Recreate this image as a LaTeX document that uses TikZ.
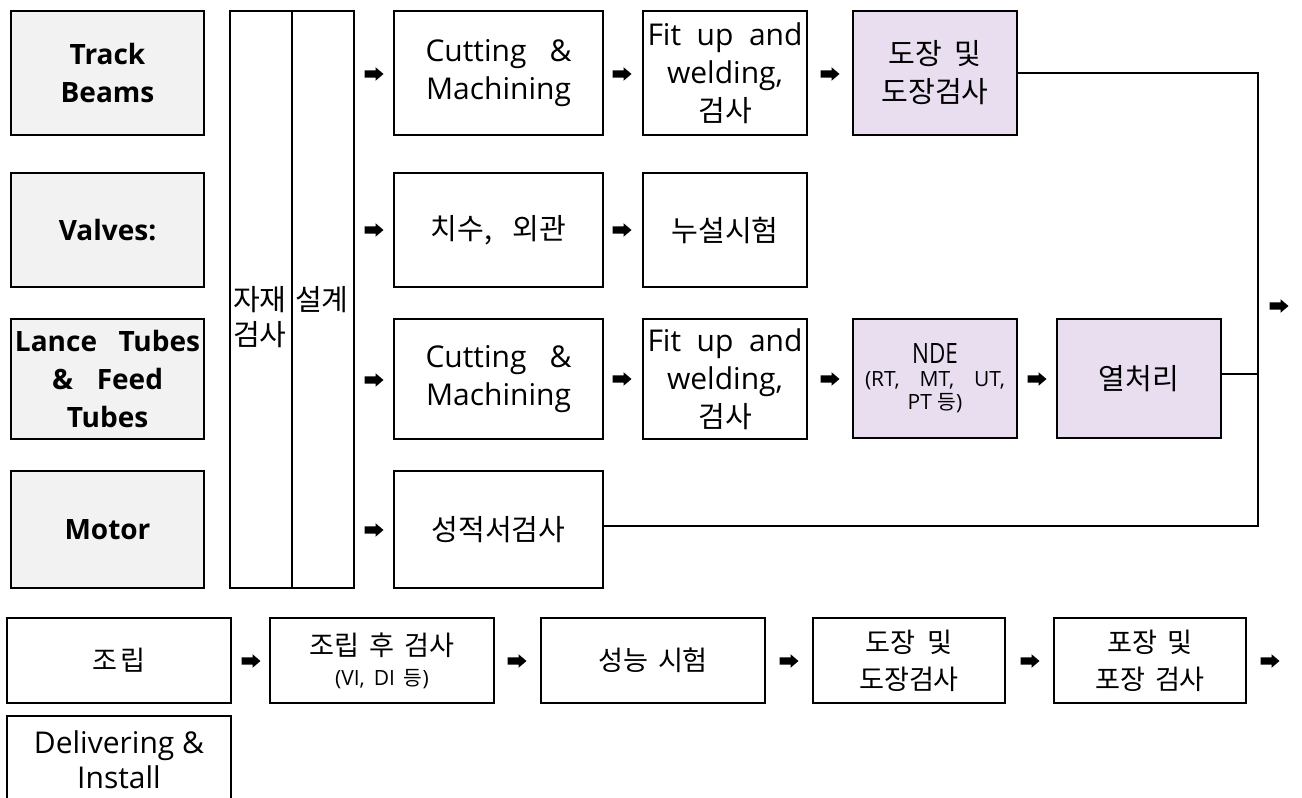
\documentclass[tikz,border=0pt]{standalone}
\usepackage{fontspec}
\setmainfont{Open Sans}
\newfontfamily\krfont{Noto Sans CJK KR}[Scale=0.97]
\newcommand\kr[1]{{\krfont #1}}
\definecolor{boxgray}{RGB}{242,242,242}
\definecolor{lilac}{RGB}{232,222,240}
\tikzset{
  box/.style={draw, line width=2.5pt, inner sep=0pt, align=center, font=\fontsize{30}{38}\selectfont},
  lbox/.style={box, fill=boxgray, font=\bfseries\fontsize{28}{38}\selectfont},
  pbox/.style={box, fill=lilac},
  blkarrow/.pic={\fill (-9.5,-3.6) -- (1.5,-3.6) -- (1.5,-6.8) -- (9.5,0) -- (1.5,6.8) -- (1.5,3.6) -- (-9.5,3.6) -- cycle;},
  conn/.style={line width=2.2pt},
  ktext/.style={anchor=base west, inner sep=0pt, font=\fontsize{30}{38}\selectfont},
}
\begin{document}
\begin{tikzpicture}[x=1pt,y=-1pt]
\useasboundingbox (0,0) rectangle (1302,798);
\clip (0,0) rectangle (1302,798);
% left labels
\node[lbox, minimum width=193pt, minimum height=124pt] (TB) at (107.5,73) {Track\\Beams};
\node[lbox, minimum width=193pt, minimum height=114pt] (VA) at (107.5,230) {Valves:};
\node[lbox, minimum width=193pt, minimum height=120pt] (LT) at (107.5,379) {\makebox[185pt][s]{Lance Tubes}\\\makebox[111pt][s]{\& Feed}\\Tubes};
\node[lbox, minimum width=193pt, minimum height=117pt] (MO) at (107.5,529.5) {Motor};
% tall columns
\node[box, minimum width=62pt, minimum height=577pt] (M1) at (261,299.5) {};
\node[box, minimum width=62pt, minimum height=577pt] (M2) at (323,299.5) {};
\node[ktext] (k1) at (233,310) {\kr{자재}};
\node[ktext] (k2) at (233,345) {\kr{검사}};
\node[ktext] (k3) at (295,310) {\kr{설계}};
% row 1
\node[box, minimum width=209pt, minimum height=124pt] (C1) at (498.5,73) {\makebox[146pt][s]{Cutting \&}\\Machining};
\node[box, minimum width=164pt, minimum height=124pt] (F1) at (725,73) {\makebox[155pt][s]{Fit up and}\\welding,\\\kr{검사}};
\node[pbox, minimum width=164pt, minimum height=124pt] (P1) at (935,73) {\kr{도장}\hspace{12pt}\kr{및}\\\kr{도장검사}};
% row 2
\node[box, minimum width=209pt, minimum height=114pt] (D2) at (498.5,230) {\kr{치수,}\hspace{20pt}\kr{외관}};
\node[box, minimum width=164pt, minimum height=114pt] (L2) at (725,230) {\kr{누설시험}};
% row 3
\node[box, minimum width=209pt, minimum height=120pt] (C3) at (498.5,379) {\makebox[146pt][s]{Cutting \&}\\Machining};
\node[box, minimum width=164pt, minimum height=120pt] (F3) at (725,379) {\makebox[155pt][s]{Fit up and}\\welding,\\\kr{검사}};
\node[pbox, minimum width=164pt, minimum height=119pt, font=\fontsize{21}{23}\selectfont] (N3) at (935,378.5) {\scalebox{0.8}[1]{\fontsize{28}{23}\selectfont NDE}\\\makebox[140pt][s]{(RT, MT, UT,}\\PT \kr{등})};
\node[pbox, minimum width=164pt, minimum height=119pt] (H3) at (1139,378.5) {\kr{열처리}};
% row 4
\node[box, minimum width=209pt, minimum height=117pt] (S4) at (498.5,529.5) {\kr{성적서검사}};
% small block arrows
\pic (a1) at (374,74) {blkarrow};
\pic (a2) at (374,230) {blkarrow};
\pic (a3) at (374,380) {blkarrow};
\pic (a4) at (374,530) {blkarrow};
\pic (a5) at (622,74) {blkarrow};
\pic (a6) at (830,74) {blkarrow};
\pic (a7) at (622,230) {blkarrow};
\pic (a8) at (622,379) {blkarrow};
\pic (a9) at (830,379) {blkarrow};
\pic (a10) at (1037,379) {blkarrow};
\pic (aR) at (1279,306) {blkarrow};
% connectors
\coordinate (J) at (1258,526);
\draw[conn] (P1.east) -| (J) -- ([yshift=3.5pt]S4.east);
\draw[conn] ([yshift=4.5pt]H3.east) coordinate (h3) -- (h3 -| J);
% bottom row
\node[box, minimum width=224pt, minimum height=85pt, font=\fontsize{28}{37}\selectfont] (B1) at (119,660.5) {\kr{조}\hspace{3pt}\kr{립}};
\node[box, minimum width=224pt, minimum height=85pt, font=\fontsize{21}{30}\selectfont] (B2) at (382,660.5) {{\fontsize{28}{30}\selectfont\kr{조립}\hspace{10pt}\kr{후}\hspace{10pt}\kr{검사}}\\(VI,\hspace{9pt}DI\hspace{9pt}\kr{등})};
\node[box, minimum width=224pt, minimum height=85pt, font=\fontsize{28}{37}\selectfont] (B3) at (653,660.5) {\kr{성능}\hspace{10pt}\kr{시험}};
\node[box, minimum width=192pt, minimum height=85pt, font=\fontsize{28}{37}\selectfont] (B4) at (909,660.5) {\kr{도장}\hspace{12pt}\kr{및}\\\kr{도장검사}};
\node[box, minimum width=192pt, minimum height=85pt, font=\fontsize{28}{37}\selectfont] (B5) at (1150,660.5) {\kr{포장}\hspace{10pt}\kr{및}\\\kr{포장}\hspace{10pt}\kr{검사}};
\node[box, minimum width=224pt, minimum height=88pt, font=\fontsize{30}{35}\selectfont] (DL) at (119,760) {Delivering \&\\Install};
\pic (b1) at (251,661) {blkarrow};
\pic (b2) at (517,661) {blkarrow};
\pic (b3) at (789,661) {blkarrow};
\pic (b4) at (1030,661) {blkarrow};
\pic (b5) at (1270,661) {blkarrow};
\end{tikzpicture}
\end{document}
